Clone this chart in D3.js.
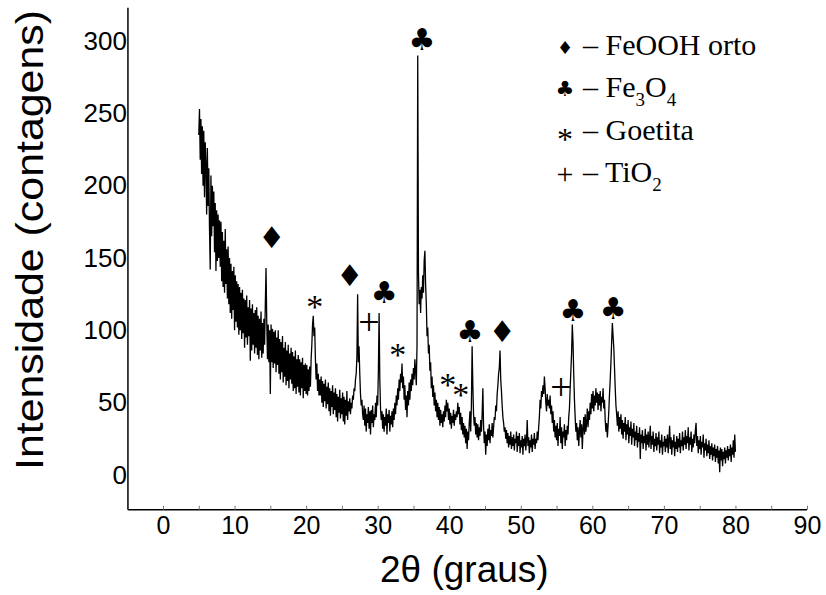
<!DOCTYPE html>
<html>
<head>
<meta charset="utf-8">
<script src="https://cdn.jsdelivr.net/npm/d3@7"></script>
<style>
body{margin:0;background:#fff}
</style>
</head>
<body>
<svg id="chart" width="826" height="595"></svg>
<script>
// XRD scan: 2theta from 5 to 80 deg, step 0.1 deg (counts)
var startAngle=5, stepAngle=0.1;
var counts=[
235,253,218,246,208,241,200,238,192,230,
215,180,226,186,212,170,142,207,165,200,
172,196,154,188,141,183,148,180,150,176,
144,175,134,168,130,162,126,170,132,156,
122,158,118,150,112,146,108,141,114,144,
100,138,106,134,102,132,97,130,100,126,
94,128,98,122,88,121,95,124,90,116,
96,121,79,115,86,118,90,112,84,114,
88,116,83,110,80,108,86,113,81,105,
84,108,90,118,143,106,80,104,78,100,
56,104,78,101,74,99,77,100,71,95,
76,100,70,94,66,92,71,96,64,88,
68,92,62,86,65,90,60,84,66,88,
63,85,58,82,60,86,56,80,61,83,
57,80,55,78,60,81,53,76,58,77,
56,76,55,73,58,75,61,80,90,104,
110,96,102,80,66,77,58,70,55,66,
55,68,50,65,47,63,51,66,46,61,
49,64,44,60,41,58,47,62,42,57,
45,60,40,56,37,54,43,59,39,53,
42,57,37,54,35,52,41,58,38,51,
44,53,42,50,46,55,52,60,58,66,
70,82,125,78,89,70,56,48,52,42,
38,48,34,46,30,42,36,47,32,44,
28,45,36,48,33,42,38,50,40,55,
48,72,112,66,46,38,44,32,42,30,
40,34,46,28,42,36,45,30,41,35,
44,33,46,38,50,42,55,48,60,52,
66,58,70,64,77,60,68,52,62,45,
55,40,58,48,64,52,66,58,70,62,
74,66,80,72,62,90,290,140,118,128,
112,130,122,138,126,148,155,132,118,96,
102,84,90,72,78,60,68,54,62,48,
57,44,52,40,50,38,47,34,45,36,
42,33,44,37,48,40,52,44,50,38,
46,35,43,32,41,36,45,34,42,38,
44,40,50,42,47,35,43,31,40,28,
36,26,34,22,32,18,30,24,36,44,
30,48,89,62,42,34,40,28,36,26,
35,24,33,27,38,30,42,60,34,22,
30,14,28,20,32,24,35,22,31,27,
36,26,33,40,38,48,44,56,62,70,
74,86,66,58,48,40,36,30,33,25,
31,22,29,19,27,21,30,18,26,20,
28,17,25,22,30,16,27,20,29,15,
24,19,27,14,25,20,28,17,24,38,
20,26,15,24,19,28,16,25,21,29,
18,25,22,30,24,33,40,52,46,58,
54,62,56,68,60,50,44,56,48,52,
46,55,42,48,36,44,30,38,26,34,
24,36,20,32,27,40,22,33,18,30,
26,35,20,31,24,34,28,40,46,60,
72,84,104,92,70,52,40,30,36,24,
33,20,30,38,26,35,18,32,40,28,
42,30,36,46,33,44,38,50,42,56,
46,58,44,55,48,60,50,57,45,56,
48,58,44,54,50,60,46,52,38,30,
36,26,34,44,56,66,78,92,105,96,
88,74,60,48,42,34,44,30,40,32,
42,28,38,25,36,30,40,24,35,28,
38,22,33,27,37,21,32,26,36,20,
30,24,34,19,29,23,33,11,28,22,
31,18,27,22,32,17,28,21,30,19,
26,34,18,27,21,30,16,25,20,29,
17,26,21,30,15,24,19,28,14,23,
20,27,16,25,19,28,15,24,34,18,
26,14,24,19,28,13,23,18,27,16,
25,19,29,15,24,20,30,17,26,21,
31,18,27,22,33,17,26,21,30,16,
25,19,28,22,31,36,20,27,15,24,
18,27,14,23,19,28,12,22,17,25,
13,21,15,24,11,20,14,22,10,19,
13,21,9,18,12,20,8,17,2,19,
10,18,6,16,11,19,8,17,12,20,
10,18,13,21,9,19,14,24,12,28,
16
];

// axis ticks
var xTicks=[0,5,10,15,20,25,30,35,40,45,50,55,60,65,70,75,80,85,90];
var yTicks=[0,50,100,150,200,250,300];

// phase markers above peaks
var markSymbols=["\u2666","*","\u2666","+","\u2663","*","\u2663","*","*","\u2663","\u2666","+","\u2663","\u2663"];
var markAngles=[15.2,21.2,26.1,28.8,30.9,32.8,36.2,39.8,41.6,42.9,47.4,55.6,57.3,62.9];
var markCounts=[164,122,138,106,126,89,301,68,61,99,99,61,114,115];

// legend
var legendSymbols=["\u2666","\u2663","*","+"];
var legendParts=[["FeOOH orto"],["Fe","3","O","4"],["Goetita"],["TiO","2"]];

var svg=d3.select("#chart");
var x=d3.scaleLinear().domain([0,90]).range([163,807]);
var y=d3.scaleLinear().domain([0,300]).range([475,41]);

var xMin=-4.9, yMin=-24, yMax=323;

// axes lines
svg.append("line")
	.attr("x1",x(xMin)).attr("x2",x(90))
	.attr("y1",y(yMin)).attr("y2",y(yMin))
	.attr("stroke","#000").attr("stroke-width",1.5);
svg.append("line")
	.attr("x1",x(xMin)).attr("x2",x(xMin))
	.attr("y1",y(yMin)).attr("y2",y(yMax))
	.attr("stroke","#000").attr("stroke-width",1.5);

// x axis ticks + labels
var xAxis=d3.axisBottom(x)
	.tickValues(xTicks)
	.tickSizeInner(-4)
	.tickSizeOuter(0)
	.tickPadding(7)
	.tickFormat(function(d){ return d%10===0 ? d : ""; });
var gx=svg.append("g")
	.attr("transform","translate(0,"+y(yMin)+")")
	.call(xAxis);
gx.select(".domain").remove();
gx.selectAll(".tick line").attr("stroke","#777");
gx.selectAll("text")
	.attr("font-family","'Liberation Sans', Arial, sans-serif")
	.attr("font-size",25)
	.attr("fill","#000");

// y axis labels (no tick marks)
var yAxis=d3.axisLeft(y)
	.tickValues(yTicks)
	.tickSize(0)
	.tickPadding(1);
var gy=svg.append("g")
	.attr("transform","translate("+x(xMin)+",0)")
	.call(yAxis);
gy.select(".domain").remove();
gy.selectAll("text")
	.attr("font-family","'Liberation Sans', Arial, sans-serif")
	.attr("font-size",26)
	.attr("fill","#000");

// axis titles
svg.append("text")
	.attr("transform","translate(43,240) rotate(-90)")
	.attr("text-anchor","middle")
	.attr("font-family","'Liberation Sans', Arial, sans-serif")
	.attr("font-size",38)
	.attr("textLength",460)
	.attr("lengthAdjust","spacingAndGlyphs")
	.text("Intensidade (contagens)");

svg.append("text")
	.attr("x",380).attr("y",582)
	.attr("font-family","'Liberation Sans', Arial, sans-serif")
	.attr("font-size",37)
	.text("2\u03b8 (graus)");

// the scan
var line=d3.line()
	.x(function(d,i){ return x(startAngle+i*stepAngle); })
	.y(function(d){ return y(d); });

svg.append("path")
	.datum(counts)
	.attr("d",line)
	.attr("fill","none")
	.attr("stroke","#000")
	.attr("stroke-width",1.3)
	.attr("stroke-linejoin","bevel");

// marker glyph style
var serif="'Liberation Serif', 'Times New Roman', serif";
function symFont(s){ return (s==="*"||s==="+") ? serif : "'DejaVu Sans', sans-serif"; }
function symSize(s,big){
	if(s==="\u2666") return big?30:18;
	if(s==="\u2663") return big?30:21;
	if(s==="*") return big?34:32;
	return big?38:30;
}
function symShift(s,big){ return s==="*" ? (big?8:7) : 0; }

svg.selectAll(".mark")
	.data(markSymbols)
	.enter().append("text")
	.attr("class","mark")
	.attr("x",function(d,i){ return x(markAngles[i]); })
	.attr("y",function(d,i){ return y(markCounts[i])+symShift(d,true); })
	.attr("text-anchor","middle")
	.attr("dominant-baseline","central")
	.attr("font-family",function(d){ return symFont(d); })
	.attr("font-size",function(d){ return symSize(d,true); })
	.attr("fill","#000")
	.text(function(d){ return d; });

// legend
var legend=svg.append("g").attr("class","legend");
legendSymbols.forEach(function(s,i){
	var base=55+i*42.3;
	legend.append("text")
		.attr("x",565).attr("y",base-8+symShift(s,false))
		.attr("text-anchor","middle")
		.attr("dominant-baseline","central")
		.attr("font-family",symFont(s))
		.attr("font-size",symSize(s,false))
		.text(s);
	var t=legend.append("text")
		.attr("x",583).attr("y",base)
		.attr("font-family",serif)
		.attr("font-size",30);
	t.append("tspan").text("\u2013 ");
	legendParts[i].forEach(function(p,j){
		var ts=t.append("tspan").text(p);
		if(j%2===1){
			ts.attr("font-size",19).attr("dy",9);
		}else if(j>0){
			ts.attr("dy",-9);
		}
	});
});
</script>
</body>
</html>
